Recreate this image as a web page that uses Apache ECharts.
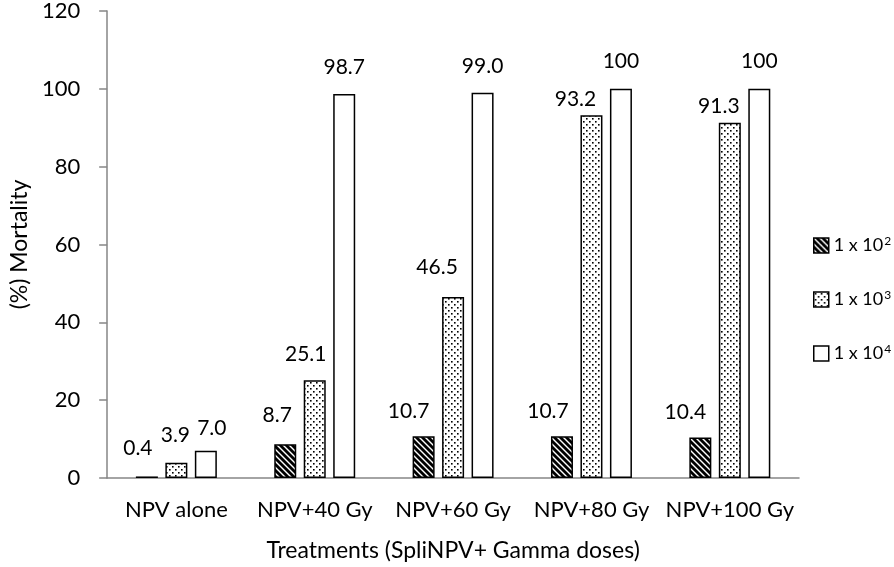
<!DOCTYPE html>
<html>
<head>
<meta charset="utf-8">
<script src="https://cdn.jsdelivr.net/npm/echarts@6/dist/echarts.min.js"></script>
<style>html,body{margin:0;padding:0;background:#fff;}#c{width:894px;height:567px;}</style>
</head>
<body>
<div id="c"></div>
<script>
// ---- data ----
const categories = ['NPV alone', 'NPV+40 Gy', 'NPV+60 Gy', 'NPV+80 Gy', 'NPV+100 Gy'];
const seriesNames = ['1 x 10\u00B2', '1 x 10\u00B3', '1 x 10\u2074'];
const seriesExponents = ['2', '3', '4'];
const dose1e2 = [0.4, 8.7, 10.7, 10.7, 10.4];
const dose1e3 = [3.9, 25.1, 46.5, 93.2, 91.3];
const dose1e4 = [7.0, 98.7, 99.0, 100, 100];
const labelText = [
  ['0.4', '8.7', '10.7', '10.7', '10.4'],
  ['3.9', '25.1', '46.5', '93.2', '91.3'],
  ['7.0', '98.7', '99.0', '100', '100']
];
const yTicks = {min: 0, max: 120, interval: 20};

// ---- styling ----
const FONT = 'Lato';
const labelOffsets = [
  [[-9,-13],[-8,-13],[-15,-10],[-14,-10],[-15,-10]],
  [[-1,-12],[-9,-11],[-16,-14],[-16,-1],[-11,-1]],
  [[6,-7],[0,-11],[0,-11],[0,-12],[0,-12]]
];

function hatchPattern() {
  const c = document.createElement('canvas');
  c.width = 6; c.height = 6;
  const g = c.getContext('2d');
  g.fillStyle = '#000'; g.fillRect(0, 0, 6, 6);
  g.strokeStyle = '#fff'; g.lineWidth = 1.4;
  for (let k = -6; k <= 6; k += 6) {
    g.beginPath(); g.moveTo(k - 1, -1); g.lineTo(k + 7, 7); g.stroke();
  }
  return c;
}
function dotPattern() {
  const c = document.createElement('canvas');
  c.width = 6; c.height = 6;
  const g = c.getContext('2d');
  g.fillStyle = '#fff'; g.fillRect(0, 0, 6, 6);
  g.fillStyle = '#000';
  g.fillRect(1, 1, 1.6, 1.6);
  g.fillRect(4, 4, 1.6, 1.6);
  return c;
}
const fills = [
  {image: hatchPattern(), repeat: 'repeat'},
  {image: dotPattern(), repeat: 'repeat'},
  '#ffffff'
];
const values = [dose1e2, dose1e3, dose1e4];

const chart = echarts.init(document.getElementById('c'), null, {renderer: 'canvas'});
const series = values.map((vals, si) => ({
  name: seriesNames[si],
  type: 'bar',
  barWidth: 22,
  barGap: '34%',
  data: vals.map((v, i) => ({
    value: v,
    label: {offset: labelOffsets[si][i], formatter: labelText[si][i]}
  })),
  itemStyle: {color: fills[si], borderColor: '#000', borderWidth: 1.5},
  label: {show: true, position: 'top', distance: 5, color: '#000', fontFamily: FONT, fontSize: 21},
  emphasis: {disabled: true}
}));

chart.setOption({
  animation: false,
  grid: {left: 95, right: 95, top: 10, bottom: 85, containLabel: false},
  legend: {
    orient: 'vertical',
    left: 808,
    top: 230,
    itemGap: 33,
    itemWidth: 15,
    itemHeight: 15,
    icon: 'rect',
    formatter: function (name) {
      const i = seriesNames.indexOf(name);
      return '{b|1 x 10}{s|' + seriesExponents[i] + '}';
    },
    textStyle: {
      fontFamily: FONT, fontSize: 18, color: '#000',
      rich: {
        b: {fontFamily: FONT, fontSize: 18, color: '#000', lineHeight: 24},
        s: {fontFamily: FONT, fontSize: 12, color: '#000', padding: [0, 0, 9, 1], lineHeight: 24}
      }
    },
    data: seriesNames.map((n, i) => ({name: n, itemStyle: {color: fills[i], borderColor: '#000', borderWidth: 1.5}}))
  },
  xAxis: {
    type: 'category',
    data: categories,
    name: 'Treatments (SpliNPV+ Gamma doses)',
    nameLocation: 'middle',
    nameGap: 61,
    nameTextStyle: {fontFamily: FONT, fontSize: 23, color: '#000'},
    axisLine: {lineStyle: {color: '#868686', width: 1.5}},
    axisTick: {show: false},
    axisLabel: {fontFamily: FONT, fontSize: 22, color: '#000', margin: 21, interval: 0}
  },
  yAxis: {
    type: 'value',
    min: yTicks.min, max: yTicks.max, interval: yTicks.interval,
    name: '(%) Mortality',
    nameLocation: 'middle',
    nameGap: 76,
    nameTextStyle: {fontFamily: FONT, fontSize: 23, color: '#000'},
    axisLine: {show: true, lineStyle: {color: '#868686', width: 1.5}},
    axisTick: {show: true, length: 8, lineStyle: {color: '#868686', width: 1.5}},
    axisLabel: {fontFamily: FONT, fontSize: 22, color: '#000', margin: 27},
    splitLine: {show: false}
  },
  series: series
});
</script>
</body>
</html>
